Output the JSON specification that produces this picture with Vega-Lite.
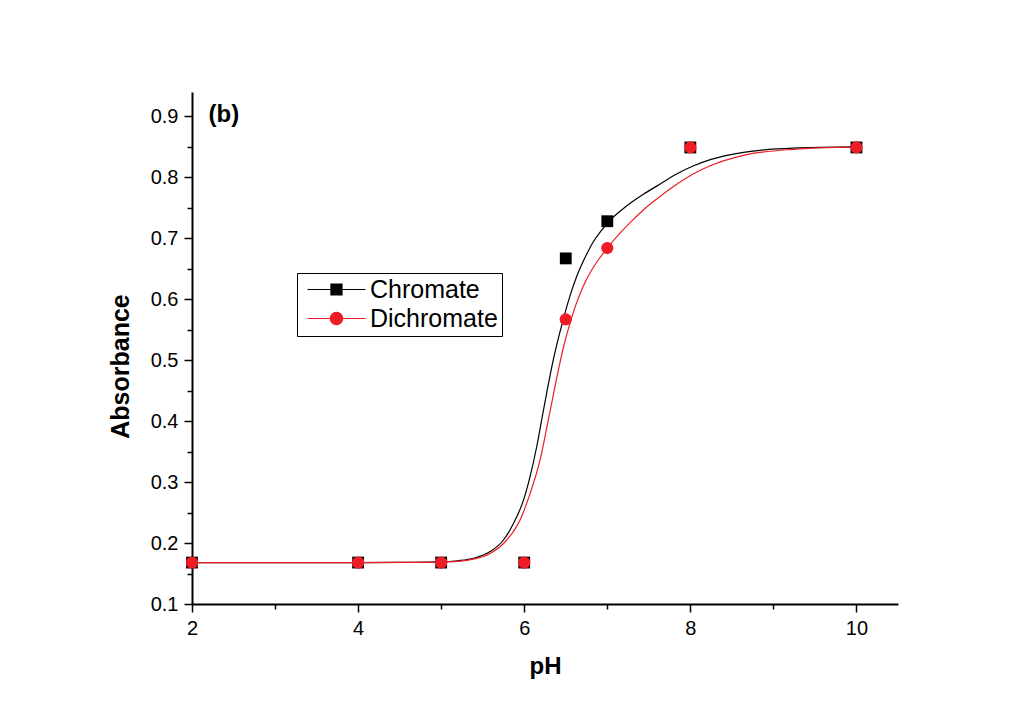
{
  "$schema": "https://vega.github.io/schema/vega-lite/v6.json",
  "width": 706,
  "height": 512,
  "autosize": {"type": "none"},
  "padding": {"left": 192, "top": 92, "right": 135, "bottom": 111},
  "background": "white",
  "config": {"view": {"stroke": null}, "font": "Liberation Sans"},
  "datasets": {
    "obs": [
      {"series": "Chromate", "pH": 2, "A": 0.168},
      {"series": "Chromate", "pH": 4, "A": 0.168},
      {"series": "Chromate", "pH": 5, "A": 0.168},
      {"series": "Chromate", "pH": 6, "A": 0.168},
      {"series": "Chromate", "pH": 6.5, "A": 0.667},
      {"series": "Chromate", "pH": 7, "A": 0.728},
      {"series": "Chromate", "pH": 8, "A": 0.849},
      {"series": "Chromate", "pH": 10, "A": 0.849},
      {"series": "Dichromate", "pH": 2, "A": 0.168},
      {"series": "Dichromate", "pH": 4, "A": 0.168},
      {"series": "Dichromate", "pH": 5, "A": 0.168},
      {"series": "Dichromate", "pH": 6, "A": 0.168},
      {"series": "Dichromate", "pH": 6.5, "A": 0.567},
      {"series": "Dichromate", "pH": 7, "A": 0.684},
      {"series": "Dichromate", "pH": 8, "A": 0.849},
      {"series": "Dichromate", "pH": 10, "A": 0.849}
    ],
    "fit": [
      {"series": "Chromate", "pH": 2, "A": 0.168},
      {"series": "Chromate", "pH": 3, "A": 0.168},
      {"series": "Chromate", "pH": 4, "A": 0.168},
      {"series": "Chromate", "pH": 4.5, "A": 0.1682},
      {"series": "Chromate", "pH": 5.0, "A": 0.169},
      {"series": "Chromate", "pH": 5.2, "A": 0.171},
      {"series": "Chromate", "pH": 5.39, "A": 0.175},
      {"series": "Chromate", "pH": 5.59, "A": 0.186},
      {"series": "Chromate", "pH": 5.75, "A": 0.205},
      {"series": "Chromate", "pH": 5.87, "A": 0.232},
      {"series": "Chromate", "pH": 5.99, "A": 0.27},
      {"series": "Chromate", "pH": 6.07, "A": 0.309},
      {"series": "Chromate", "pH": 6.15, "A": 0.358},
      {"series": "Chromate", "pH": 6.21, "A": 0.402},
      {"series": "Chromate", "pH": 6.27, "A": 0.446},
      {"series": "Chromate", "pH": 6.33, "A": 0.488},
      {"series": "Chromate", "pH": 6.4, "A": 0.53},
      {"series": "Chromate", "pH": 6.47, "A": 0.567},
      {"series": "Chromate", "pH": 6.55, "A": 0.605},
      {"series": "Chromate", "pH": 6.63, "A": 0.637},
      {"series": "Chromate", "pH": 6.72, "A": 0.665},
      {"series": "Chromate", "pH": 6.83, "A": 0.694},
      {"series": "Chromate", "pH": 6.93, "A": 0.713},
      {"series": "Chromate", "pH": 7.0, "A": 0.725},
      {"series": "Chromate", "pH": 7.15, "A": 0.744},
      {"series": "Chromate", "pH": 7.3, "A": 0.760},
      {"series": "Chromate", "pH": 7.43, "A": 0.772},
      {"series": "Chromate", "pH": 7.6, "A": 0.786},
      {"series": "Chromate", "pH": 7.84, "A": 0.806},
      {"series": "Chromate", "pH": 8.04, "A": 0.819},
      {"series": "Chromate", "pH": 8.24, "A": 0.829},
      {"series": "Chromate", "pH": 8.64, "A": 0.841},
      {"series": "Chromate", "pH": 9.24, "A": 0.848},
      {"series": "Chromate", "pH": 10, "A": 0.85},
      {"series": "Dichromate", "pH": 2, "A": 0.168},
      {"series": "Dichromate", "pH": 3, "A": 0.168},
      {"series": "Dichromate", "pH": 4, "A": 0.168},
      {"series": "Dichromate", "pH": 4.5, "A": 0.1682},
      {"series": "Dichromate", "pH": 5.0, "A": 0.169},
      {"series": "Dichromate", "pH": 5.2, "A": 0.17},
      {"series": "Dichromate", "pH": 5.4, "A": 0.174},
      {"series": "Dichromate", "pH": 5.59, "A": 0.183},
      {"series": "Dichromate", "pH": 5.79, "A": 0.205},
      {"series": "Dichromate", "pH": 5.95, "A": 0.238},
      {"series": "Dichromate", "pH": 6.07, "A": 0.281},
      {"series": "Dichromate", "pH": 6.19, "A": 0.336},
      {"series": "Dichromate", "pH": 6.29, "A": 0.402},
      {"series": "Dichromate", "pH": 6.39, "A": 0.47},
      {"series": "Dichromate", "pH": 6.47, "A": 0.52},
      {"series": "Dichromate", "pH": 6.55, "A": 0.56},
      {"series": "Dichromate", "pH": 6.63, "A": 0.594},
      {"series": "Dichromate", "pH": 6.71, "A": 0.621},
      {"series": "Dichromate", "pH": 6.8, "A": 0.645},
      {"series": "Dichromate", "pH": 6.9, "A": 0.666},
      {"series": "Dichromate", "pH": 7.0, "A": 0.684},
      {"series": "Dichromate", "pH": 7.15, "A": 0.708},
      {"series": "Dichromate", "pH": 7.3, "A": 0.729},
      {"series": "Dichromate", "pH": 7.43, "A": 0.746},
      {"series": "Dichromate", "pH": 7.6, "A": 0.765},
      {"series": "Dichromate", "pH": 7.84, "A": 0.789},
      {"series": "Dichromate", "pH": 8.04, "A": 0.806},
      {"series": "Dichromate", "pH": 8.24, "A": 0.819},
      {"series": "Dichromate", "pH": 8.64, "A": 0.836},
      {"series": "Dichromate", "pH": 9.24, "A": 0.846},
      {"series": "Dichromate", "pH": 10, "A": 0.85}
    ],
    "label": [{"text": "(b)", "pH": 2.2, "A": 0.903}]
  },
  "encoding": {
    "x": {
      "field": "pH", "type": "quantitative",
      "scale": {"domain": [2, 10.5], "nice": false, "zero": false},
      "axis": {
        "values": [2, 3, 4, 5, 6, 7, 8, 9, 10],
        "format": "d",
        "labelExpr": "datum.value % 2 == 0 ? datum.label : ''",
        "tickSize": {"condition": {"test": "datum.value % 2 == 0", "value": 8}, "value": 5},
        "tickWidth": 1.5, "tickColor": "black",
        "domainWidth": 2, "domainColor": "black",
        "labelFontSize": 20, "labelColor": "black", "labelPadding": 6,
        "labelFlush": false, "labelOverlap": false, "grid": false,
        "title": "pH", "titleFontSize": 24, "titleFontWeight": "bold", "titleColor": "black", "titlePadding": 16
      }
    },
    "y": {
      "field": "A", "type": "quantitative",
      "scale": {"domain": [0.1, 0.94], "nice": false, "zero": false},
      "axis": {
        "values": [0.1, 0.15, 0.2, 0.25, 0.3, 0.35, 0.4, 0.45, 0.5, 0.55, 0.6, 0.65, 0.7, 0.75, 0.8, 0.85, 0.9],
        "format": ".1f",
        "labelExpr": "abs(datum.value * 10 - round(datum.value * 10)) < 0.001 ? datum.label : ''",
        "tickSize": {"condition": {"test": "abs(datum.value * 10 - round(datum.value * 10)) < 0.001", "value": 8}, "value": 5},
        "tickWidth": 1.5, "tickColor": "black",
        "domainWidth": 2, "domainColor": "black",
        "labelFontSize": 20, "labelColor": "black", "labelPadding": 6,
        "labelFlush": false, "labelOverlap": false, "grid": false,
        "title": "Absorbance", "titleFontSize": 25, "titleFontWeight": "bold", "titleColor": "black", "titlePadding": 17,
        "titleY": 274
      }
    }
  },
  "layer": [
    {
      "data": {"name": "fit"},
      "mark": {"type": "line", "strokeWidth": 1.2, "interpolate": "monotone"},
      "encoding": {
        "color": {
          "field": "series", "type": "nominal",
          "scale": {"domain": ["Chromate", "Dichromate"], "range": ["black", "#ee1d25"]},
          "legend": {
            "orient": "none", "legendX": 105, "legendY": 181,
            "title": null, "padding": 4, "strokeColor": "black", "fillColor": "white",
            "symbolSize": 144, "symbolStrokeWidth": 1.2, "labelOffset": 44,
            "labelFontSize": 25, "labelColor": "black", "rowPadding": 3,
            "encode": {
              "symbols": {
                "update": {
                  "shape": {"signal": "datum.value === 'Chromate' ? 'M-1,0H8.67M2.91,-0.92H4.75V0.92H2.91Z' : 'M-1,0H8.67M4.86,0A1.03,1.03,0,1,1,2.8,0A1.03,1.03,0,1,1,4.86,0Z'"},
                  "fill": {"signal": "datum.value === 'Chromate' ? 'black' : '#ee1d25'"},
                  "stroke": {"signal": "datum.value === 'Chromate' ? 'black' : '#ee1d25'"},
                  "strokeWidth": {"value": 1.2},
                  "opacity": {"value": 1}
                }
              }
            }
          }
        }
      }
    },
    {
      "data": {"name": "obs"},
      "transform": [{"filter": "datum.series === 'Chromate'"}],
      "mark": {"type": "point", "shape": "square", "filled": true, "size": 140, "color": "black", "opacity": 1}
    },
    {
      "data": {"name": "obs"},
      "transform": [{"filter": "datum.series === 'Dichromate'"}],
      "mark": {"type": "point", "shape": "circle", "filled": true, "size": 150, "color": "#ee1d25", "opacity": 1}
    },
    {
      "data": {"name": "label"},
      "mark": {"type": "text", "align": "left", "baseline": "middle", "fontSize": 24, "fontWeight": "bold", "color": "black"},
      "encoding": {"text": {"field": "text"}}
    }
  ]
}
